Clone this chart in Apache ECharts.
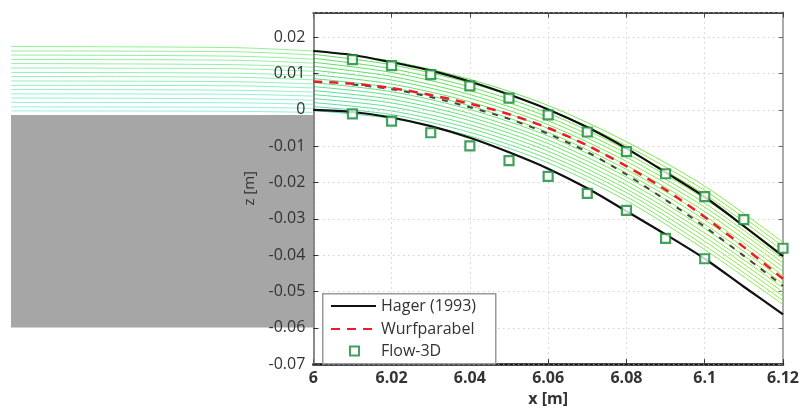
<!DOCTYPE html>
<html><head><meta charset="utf-8">
<script src="https://cdn.jsdelivr.net/npm/echarts@6/dist/echarts.min.js"></script>
<style>html,body{margin:0;padding:0;background:#fff}#c{width:802px;height:412px}</style>
</head><body><div id="c"></div>
<script>
// ---- data ----
const xMain = [6.00, 6.01, 6.02, 6.03, 6.04, 6.05, 6.06, 6.07, 6.08, 6.09, 6.10, 6.11, 6.12];
const hagerUpper = [0.0162, 0.0151, 0.0131, 0.0108, 0.0078, 0.0042, 0.0001, -0.0048, -0.0106, -0.0172, -0.0240, -0.0320, -0.0403];
const hagerLower = [0.0000, -0.0006, -0.0021, -0.0045, -0.0077, -0.0117, -0.0162, -0.0216, -0.0279, -0.0343, -0.0410, -0.0487, -0.0563];
const wurfparabel = [0.0078, 0.0072, 0.0060, 0.0041, 0.0017, -0.0012, -0.0050, -0.0098, -0.0155, -0.0220, -0.0295, -0.0378, -0.0465];
const xSecond = [6.01, 6.02, 6.03, 6.04, 6.05, 6.06, 6.07, 6.08, 6.09, 6.10, 6.11, 6.12];
const secondDashed = [0.0070, 0.0057, 0.0035, 0.0007, -0.0025, -0.0066, -0.0116, -0.0178, -0.0248, -0.0322, -0.0402, -0.0485];
const flowUpperX = [6.01, 6.02, 6.03, 6.04, 6.05, 6.06, 6.07, 6.08, 6.09, 6.10, 6.11, 6.12];
const flowUpperZ = [0.0138, 0.0122, 0.0097, 0.0066, 0.0032, -0.0014, -0.0061, -0.0115, -0.0176, -0.0239, -0.0302, -0.0381];
const flowLowerX = [6.01, 6.02, 6.03, 6.04, 6.05, 6.06, 6.07, 6.08, 6.09, 6.10];
const flowLowerZ = [-0.0011, -0.0031, -0.0063, -0.0099, -0.0140, -0.0183, -0.0230, -0.0277, -0.0354, -0.0410];
const streamX = [5.9235, 5.98, 6.00, 6.02, 6.04, 6.06, 6.08, 6.10, 6.12];
const streamZ = [
  [0.0176, 0.0173, 0.0164, 0.0134, 0.0084, 0.0012, -0.0088, -0.0210, -0.0365],
  [0.0164, 0.0162, 0.0153, 0.0124, 0.0074, 0.0002, -0.0099, -0.0222, -0.0376],
  [0.0153, 0.0150, 0.0142, 0.0113, 0.0063, -0.0009, -0.0110, -0.0233, -0.0388],
  [0.0141, 0.0139, 0.0131, 0.0103, 0.0053, -0.0020, -0.0120, -0.0245, -0.0399],
  [0.0130, 0.0127, 0.0120, 0.0092, 0.0042, -0.0030, -0.0131, -0.0257, -0.0411],
  [0.0118, 0.0116, 0.0109, 0.0082, 0.0032, -0.0041, -0.0142, -0.0268, -0.0422],
  [0.0106, 0.0104, 0.0097, 0.0071, 0.0022, -0.0051, -0.0153, -0.0280, -0.0433],
  [0.0095, 0.0093, 0.0086, 0.0061, 0.0011, -0.0062, -0.0164, -0.0292, -0.0445],
  [0.0083, 0.0081, 0.0075, 0.0050, 0.0001, -0.0072, -0.0174, -0.0303, -0.0456],
  [0.0071, 0.0070, 0.0064, 0.0040, -0.0010, -0.0083, -0.0185, -0.0315, -0.0468],
  [0.0060, 0.0058, 0.0053, 0.0029, -0.0020, -0.0093, -0.0196, -0.0327, -0.0479],
  [0.0048, 0.0047, 0.0042, 0.0019, -0.0030, -0.0104, -0.0207, -0.0339, -0.0490],
  [0.0037, 0.0035, 0.0031, 0.0008, -0.0041, -0.0114, -0.0218, -0.0350, -0.0502],
  [0.0025, 0.0024, 0.0020, -0.0003, -0.0051, -0.0125, -0.0228, -0.0362, -0.0513],
  [0.0013, 0.0012, 0.0009, -0.0013, -0.0062, -0.0135, -0.0239, -0.0374, -0.0525],
  [0.0002, 0.0001, -0.0002, -0.0024, -0.0072, -0.0146, -0.0250, -0.0385, -0.0536]
];
const weirX = [5.9235, 6.0];
const weirZ = [-0.0009, -0.0583];
const xTickLabels = ['6', '6.02', '6.04', '6.06', '6.08', '6.1', '6.12'];
const zTickLabels = ['-0.07', '-0.06', '-0.05', '-0.04', '-0.03', '-0.02', '-0.01', '0', '0.01', '0.02'];

// ---- chart ----
const FONT = '"Open Sans", "DejaVu Sans", sans-serif';
const zMin = -0.07, zMax = 0.0268;
const pair = (xs, zs) => xs.map((x, i) => [x, zs[i]]);
const series = [];

series.push({
  type: 'custom', xAxisIndex: 0, yAxisIndex: 0, z: 0, silent: true,
  data: [[weirX[0], weirX[1], weirZ[0], weirZ[1]]],
  renderItem: function (params, api) {
    const p0 = api.coord([api.value(0), api.value(2)]);
    const p1 = api.coord([api.value(1), api.value(3)]);
    return { type: 'rect', shape: { x: p0[0], y: p0[1], width: p1[0] - p0[0], height: p1[1] - p0[1] },
      style: { fill: '#a6a6a6' } };
  }
});

streamZ.forEach((row, i) => {
  const t = i / (streamZ.length - 1);
  const pts = pair(streamX, row);
  series.push({
    type: 'line', xAxisIndex: 0, yAxisIndex: 0, symbol: 'none', smooth: 0.3, silent: true, z: 1,
    data: pts.filter(p => p[0] <= 6.0),
    lineStyle: { width: 1, color: `rgb(145,240,${Math.round(145 + 80 * t)})` }
  });
  series.push({
    type: 'line', xAxisIndex: 1, yAxisIndex: 1, symbol: 'none', smooth: 0.3, silent: true, z: 1,
    data: pts.filter(p => p[0] >= 6.0),
    lineStyle: { width: 1, color: { type: 'linear', x: 0, y: 0, x2: 1, y2: 0, colorStops: [
      { offset: 0, color: `rgb(85,220,${Math.round(85 + 95 * t)})` },
      { offset: 1, color: 'rgb(145,236,70)' }] } }
  });
});

series.push({ name: 'Hager (1993)', type: 'line', xAxisIndex: 1, yAxisIndex: 1, symbol: 'none', smooth: 0.3, z: 6,
  data: pair(xMain, hagerUpper), lineStyle: { color: '#111', width: 2.2 }, itemStyle: { color: '#111' } });
series.push({ name: 'Hager (1993)', type: 'line', xAxisIndex: 1, yAxisIndex: 1, symbol: 'none', smooth: 0.3, z: 6,
  data: pair(xMain, hagerLower), lineStyle: { color: '#111', width: 2.2 }, itemStyle: { color: '#111' } });
series.push({ type: 'line', xAxisIndex: 1, yAxisIndex: 1, symbol: 'none', smooth: 0.3, z: 6,
  data: pair(xSecond, secondDashed), lineStyle: { color: '#444', width: 2, type: [6, 7] } });
series.push({ name: 'Wurfparabel', type: 'line', xAxisIndex: 1, yAxisIndex: 1, symbol: 'none', smooth: 0.3, z: 7,
  data: pair(xMain, wurfparabel), lineStyle: { color: '#ee1c25', width: 2.5, type: [9, 7] }, itemStyle: { color: '#ee1c25' } });
const sqStyle = { color: '#ffffff', borderColor: '#138a34', borderWidth: 2.2 };
series.push({ name: 'Flow-3D', type: 'scatter', xAxisIndex: 1, yAxisIndex: 1, symbol: 'rect', symbolSize: 9, z: 8,
  data: pair(flowUpperX, flowUpperZ), itemStyle: sqStyle });
series.push({ name: 'Flow-3D', type: 'scatter', xAxisIndex: 1, yAxisIndex: 1, symbol: 'rect', symbolSize: 9, z: 8,
  data: pair(flowLowerX, flowLowerZ), itemStyle: sqStyle });

const xLab = v => { const s = String(parseFloat(v.toFixed(2))); return xTickLabels.includes(s) ? s : ''; };
const zLab = v => { const s = String(parseFloat(v.toFixed(2))); return (Math.abs(v - parseFloat(s)) < 1e-6 && zTickLabels.includes(s)) ? s : ''; };

const option = {
  animation: false,
  backgroundColor: '#fff',
  textStyle: { fontFamily: FONT },
  grid: [
    { left: 11, top: 12.5, width: 302.3, height: 358.2 },
    { left: 313.3, top: 12.5, width: 473.4, height: 358.2 }
  ],
  xAxis: [
    { gridIndex: 0, type: 'value', min: 5.9235, max: 6.0, show: false },
    { gridIndex: 1, type: 'value', min: 6.0, max: 6.12, interval: 0.02, position: 'bottom',
      name: 'x [m]', nameLocation: 'middle', nameGap: 24,
      nameTextStyle: { fontSize: 16, fontWeight: 'bold', color: '#333', fontFamily: FONT },
      axisLine: { onZero: false, lineStyle: { color: '#111', width: 2.5 } },
      axisTick: { inside: true, length: 5, lineStyle: { color: '#333' } },
      axisLabel: { fontSize: 16, fontWeight: 'bold', color: '#333', margin: 6, fontFamily: FONT, formatter: xLab },
      splitLine: { show: true, lineStyle: { color: '#bbb', type: [1, 4], width: 1 } } },
    { gridIndex: 1, type: 'value', min: 6.0, max: 6.12, interval: 0.02, position: 'top',
      axisLine: { onZero: false, lineStyle: { color: '#444', width: 2 } },
      axisTick: { inside: true, length: 5, lineStyle: { color: '#444' } },
      axisLabel: { show: false }, splitLine: { show: false } }
  ],
  yAxis: [
    { gridIndex: 0, type: 'value', min: zMin, max: zMax, show: false },
    { gridIndex: 1, type: 'value', min: zMin, max: zMax, interval: 0.01, position: 'left', z: 5,
      name: 'z [m]', nameLocation: 'middle', nameGap: 52, nameRotate: 90,
      nameTextStyle: { fontSize: 15, color: '#333', fontFamily: FONT },
      axisLine: { onZero: false, lineStyle: { color: '#666', width: 1.5 } },
      axisTick: { inside: true, length: 5, lineStyle: { color: '#333' } },
      axisLabel: { fontSize: 16, color: '#333', margin: 8, fontFamily: FONT, formatter: zLab, showMaxLabel: false },
      splitLine: { show: true, lineStyle: { color: '#bbb', type: [1, 4], width: 1 } } },
    { gridIndex: 1, type: 'value', min: zMin, max: zMax, interval: 0.01, position: 'right',
      axisLine: { onZero: false, lineStyle: { color: '#aaa', width: 2 } },
      axisTick: { inside: true, length: 5, lineStyle: { color: '#666' } },
      axisLabel: { show: false }, splitLine: { show: false } }
  ],
  legend: [
    { orient: 'vertical', left: 330, top: 297, padding: 0, itemWidth: 45, itemHeight: 14, itemGap: 5, z: 20,
      data: ['Hager (1993)', 'Wurfparabel'],
      itemStyle: { opacity: 0 },
      textStyle: { fontSize: 16, color: '#333', lineHeight: 18, fontFamily: FONT } },
    { orient: 'vertical', left: 349, top: 342, padding: 0, itemWidth: 9, itemHeight: 9, z: 20,
      data: ['Flow-3D'],
      textStyle: { fontSize: 16, color: '#333', lineHeight: 18, fontFamily: FONT, padding: [0, 0, 0, 17] } }
  ],
  graphic: [
    { type: 'rect', left: 322, top: 293, z: 10, shape: { width: 173, height: 70 },
      style: { fill: '#fff', stroke: '#999', lineWidth: 1.5 } }
  ],
  series: series
};
const chart = echarts.init(document.getElementById('c'), null, { renderer: 'canvas' });
chart.setOption(option);
</script>
</body></html>
